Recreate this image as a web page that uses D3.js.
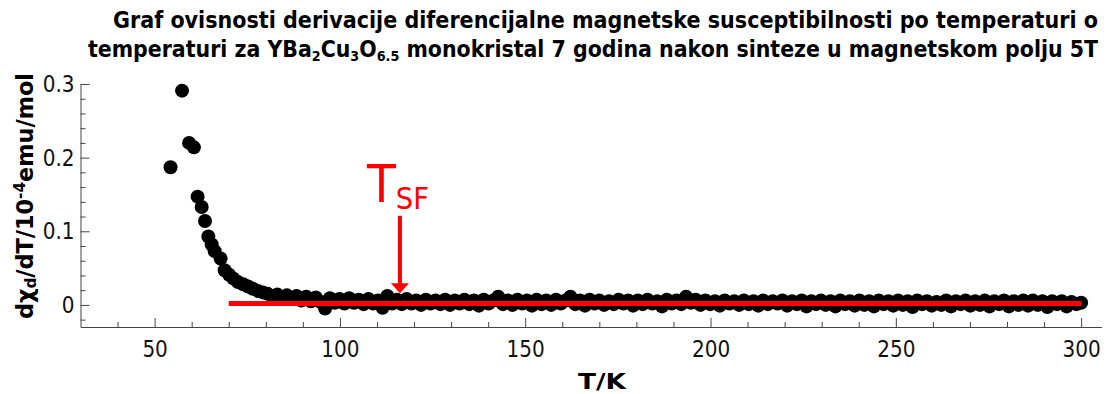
<!DOCTYPE html>
<html>
<head>
<meta charset="utf-8">
<script src="https://cdn.jsdelivr.net/npm/d3@7"></script>
<style>
  html, body { margin: 0; padding: 0; background: #fff; }
  svg { display: block; font-family: "DejaVu Sans", Verdana, sans-serif; }
</style>
</head>
<body>
<svg id="chart" width="1118" height="394"></svg>
<script>
// Temperature (K) of each measured point
const temps = [
  54.3, 57.4, 59.3, 60.6, 61.6, 62.7, 63.6, 64.5, 65.4, 66.2, 67.8, 68.9, 70.1, 71.2, 72.5, 73.9,
  75.2, 76.5, 77.9, 79.2, 80.5, 81.8, 83.1, 84.4, 85.7, 87.0, 88.3, 89.6, 90.9, 92.2, 93.5, 94.8,
  96.0, 97.3, 98.6, 99.9, 101.2, 102.5, 103.8, 105.1, 106.4, 107.7, 109.0, 110.3, 111.5, 112.8,
  114.1, 115.4, 116.7, 118.0, 119.3, 120.6, 121.9, 123.2, 124.5, 125.8, 127.1, 128.4, 129.7,
  131.0, 132.3, 133.6, 134.9, 136.2, 137.5, 138.8, 140.1, 141.4, 142.7, 144.0, 145.3, 146.6,
  147.9, 149.2, 150.5, 151.8, 153.1, 154.4, 155.7, 157.0, 158.3, 159.6, 160.9, 162.2, 163.5,
  164.8, 166.1, 167.4, 168.7, 170.0, 171.3, 172.6, 173.9, 175.2, 176.5, 177.8, 179.1, 180.4,
  181.7, 183.0, 184.3, 185.6, 186.9, 188.2, 189.5, 190.8, 192.1, 193.4, 194.7, 196.0, 197.3,
  198.6, 199.9, 201.2, 202.5, 203.8, 205.1, 206.4, 207.7, 209.0, 210.3, 211.6, 212.9, 214.2,
  215.5, 216.8, 218.1, 219.4, 220.7, 222.0, 223.3, 224.6, 225.9, 227.2, 228.5, 229.8, 231.1,
  232.4, 233.7, 235.0, 236.3, 237.6, 238.9, 240.2, 241.5, 242.8, 244.1, 245.4, 246.7, 248.0,
  249.3, 250.6, 251.9, 253.2, 254.5, 255.8, 257.1, 258.4, 259.7, 261.0, 262.3, 263.6, 264.9,
  266.2, 267.5, 268.8, 270.1, 271.4, 272.7, 274.0, 275.3, 276.6, 277.9, 279.2, 280.5, 281.8,
  283.1, 284.4, 285.7, 287.0, 288.3, 289.6, 290.9, 292.2, 293.5, 294.8, 296.1, 297.4, 298.7, 300.0
];

// d(chi_d)/dT in 10^-4 emu/mol
const dchi = [
  0.187, 0.291, 0.220, 0.214, 0.147, 0.133, 0.114, 0.093, 0.082, 0.073, 0.063, 0.047, 0.041, 0.036, 0.031, 0.028,
  0.025, 0.022, 0.019, 0.017, 0.015, 0.012, 0.014, 0.009, 0.013, 0.008, 0.012, 0.006, 0.011, 0.005, 0.010, 0.004,
  -0.005, 0.009, 0.003, 0.008, 0.002, 0.009, 0.003, 0.007, 0.001, 0.008, 0.002, 0.006, -0.004, 0.012,
  0.002, 0.007, 0.001, 0.008, 0.002, 0.006, 0.000, 0.007, 0.002, 0.006, 0.001, 0.007, 0.000,
  0.006, 0.002, 0.007, 0.001, 0.006, -0.001, 0.007, 0.002, 0.006, 0.011, 0.001, 0.006, 0.000,
  0.007, 0.002, 0.006, -0.001, 0.007, 0.001, 0.006, 0.000, 0.007, 0.002, 0.006, 0.011, 0.001,
  0.006, -0.001, 0.007, 0.002, 0.006, 0.000, 0.005, 0.001, 0.007, 0.002, 0.006, -0.001, 0.006,
  0.001, 0.007, 0.002, 0.005, -0.002, 0.007, 0.002, 0.006, 0.001, 0.011, 0.003, 0.007, 0.000,
  0.006, 0.001, 0.005, -0.001, 0.006, 0.002, 0.005, 0.000, 0.006, 0.001, 0.005, -0.001, 0.006,
  0.001, 0.005, 0.002, 0.006, -0.001, 0.005, 0.001, 0.006, -0.002, 0.005, 0.001, 0.006, 0.000,
  0.005, -0.002, 0.006, 0.001, 0.005, -0.001, 0.006, 0.000, 0.005, -0.002, 0.006, 0.001, 0.005,
  -0.001, 0.006, 0.000, 0.005, -0.003, 0.006, 0.001, 0.005, -0.001, 0.004, 0.000, 0.006, -0.002,
  0.005, 0.001, 0.006, -0.001, 0.005, 0.000, 0.006, -0.002, 0.005, 0.001, 0.006, -0.002, 0.005,
  0.000, 0.006, -0.001, 0.006, 0.000, 0.005, -0.003, 0.005, 0.001, 0.005, -0.002, 0.004, 0.001, 0.003
];

// Baseline fit (red line) and the T_SF marker
const baseLine = { t0: 70, t1: 300, value: 0.002 };
const tsf = { t: 116.2, arrowTop: 0.121, arrowTip: 0.0158 };

const xMajor = [50, 100, 150, 200, 250, 300];
const xMinor = [40, 60, 70, 80, 90, 110, 120, 130, 140, 160, 170, 180, 190, 210, 220, 230, 240, 260, 270, 280, 290];
const yMajor = [0, 0.1, 0.2, 0.3];
const yMinor = [-0.02, 0.02, 0.04, 0.06, 0.08, 0.12, 0.14, 0.16, 0.18, 0.22, 0.24, 0.26, 0.28];

const svg = d3.select("#chart");
const x = d3.scaleLinear().domain([30, 305.5]).range([80.5, 1101.5]);
const y = d3.scaleLinear().domain([-0.03, 0.3]).range([327, 84]);

// squeeze text horizontally to the narrower face used in the figure
function squeeze(sel, k) {
  sel.each(function () {
    const w = this.getComputedTextLength();
    d3.select(this).attr("textLength", w * k).attr("lengthAdjust", "spacingAndGlyphs");
  });
}

const axisColor = "#444";

// x axis
const gx = svg.append("g").attr("transform", "translate(0,327)");
gx.call(d3.axisBottom(x).tickValues(xMajor).tickSize(-9).tickSizeOuter(0).tickPadding(14)
  .tickFormat(d3.format("d")));
gx.append("g").call(d3.axisBottom(x).tickValues(xMinor).tickSize(-5).tickSizeOuter(0).tickFormat(""))
  .select(".domain").remove();
gx.selectAll("path, line").attr("stroke", axisColor);
gx.selectAll("text").attr("fill", "#111").style("font-size", "23px").style("font-family", "DejaVu Sans");

// y axis
const gy = svg.append("g").attr("transform", "translate(80.5,0)");
gy.call(d3.axisLeft(y).tickValues(yMajor).tickSize(-9).tickSizeOuter(0).tickPadding(6)
  .tickFormat(d => d === 0 ? "0" : d.toFixed(1)));
gy.append("g").call(d3.axisLeft(y).tickValues(yMinor).tickSize(-5).tickSizeOuter(0).tickFormat(""))
  .select(".domain").remove();
gy.selectAll("path, line").attr("stroke", axisColor);
gy.selectAll("text").attr("fill", "#111").style("font-size", "23px").style("font-family", "DejaVu Sans");

squeeze(gx.selectAll(".tick text"), 0.87);
squeeze(gy.selectAll(".tick text"), 0.87);

// data points
const pts = temps.map((t, i) => ({ t, v: dchi[i] }));
svg.append("g").selectAll("circle").data(pts).join("circle")
  .attr("cx", d => x(d.t)).attr("cy", d => y(d.v)).attr("r", 7).attr("fill", "#000");

// baseline
svg.append("line")
  .attr("x1", x(baseLine.t0)).attr("x2", x(baseLine.t1))
  .attr("y1", y(baseLine.value)).attr("y2", y(baseLine.value))
  .attr("stroke", "#f00").attr("stroke-width", 5);

// T_SF arrow
const ax = x(tsf.t);
const tipY = y(tsf.arrowTip);
svg.append("line").attr("x1", ax).attr("x2", ax)
  .attr("y1", y(tsf.arrowTop)).attr("y2", tipY - 8)
  .attr("stroke", "#f00").attr("stroke-width", 4);
svg.append("path")
  .attr("d", `M${ax - 9},${tipY - 10}L${ax + 9},${tipY - 10}L${ax},${tipY}Z`)
  .attr("fill", "#f00");

// T_SF label
const lab = svg.append("text").attr("fill", "#f00")
  .attr("x", x(tsf.t) - 33).attr("y", 201.5)
  .style("font-size", "52px");
lab.append("tspan").text("T");
lab.append("tspan").attr("dy", 7).style("font-size", "30px").text("SF");
squeeze(lab, 0.91);

// title
const title = svg.append("g").attr("font-weight", "bold").attr("fill", "#000").style("font-size", "22.5px");
title.append("text").attr("x", 113).attr("y", 28)
  .attr("textLength", 985).attr("lengthAdjust", "spacingAndGlyphs")
  .text("Graf ovisnosti derivacije diferencijalne magnetske susceptibilnosti po temperaturi o");
const t2 = title.append("text").attr("x", 88).attr("y", 57)
  .attr("textLength", 1010).attr("lengthAdjust", "spacingAndGlyphs");
t2.append("tspan").text("temperaturi za YBa");
t2.append("tspan").attr("dy", 4).style("font-size", "14px").text("2");
t2.append("tspan").attr("dy", -4).text("Cu");
t2.append("tspan").attr("dy", 4).style("font-size", "14px").text("3");
t2.append("tspan").attr("dy", -4).text("O");
t2.append("tspan").attr("dy", 4).style("font-size", "14px").text("6.5");
t2.append("tspan").attr("dy", -4).text(" monokristal 7 godina nakon sinteze u magnetskom polju 5T");

// axis titles
svg.append("text").attr("x", 578).attr("y", 389)
  .attr("font-weight", "bold").style("font-size", "22px")
  .attr("textLength", 48).attr("lengthAdjust", "spacingAndGlyphs")
  .text("T/K");

const ylab = svg.append("text")
  .attr("transform", "translate(33,196) rotate(-90)")
  .attr("x", -123).attr("y", 0)
  .attr("font-weight", "bold").style("font-size", "23.5px")
  .attr("textLength", 246).attr("lengthAdjust", "spacingAndGlyphs");
ylab.append("tspan").text("dχ");
ylab.append("tspan").attr("dy", 3).style("font-size", "16px").text("d");
ylab.append("tspan").attr("dy", -3).text("/dT/10");
ylab.append("tspan").attr("dy", -8).style("font-size", "16px").text("-4");
ylab.append("tspan").attr("dy", 8).text("emu/mol");
</script>
</body>
</html>
